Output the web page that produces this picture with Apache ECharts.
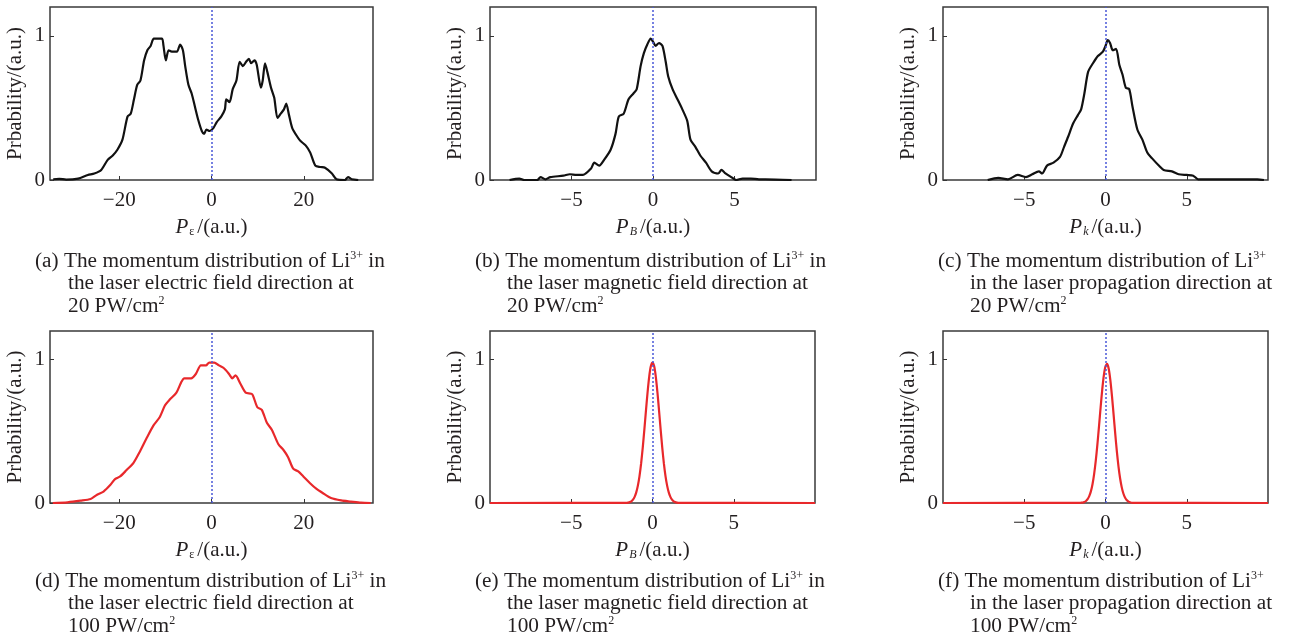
<!DOCTYPE html>
<html><head><meta charset="utf-8">
<script src="https://cdn.jsdelivr.net/npm/echarts@6/dist/echarts.min.js"></script>
<style>html,body{margin:0;padding:0;background:#fff}#c{width:1293px;height:640px}</style>
</head><body><div id="c"></div>
<script>
// ---------- data ----------
const aX = [-34.3,-33,-31.5,-28.9,-26.8,-25.4,-23.9,-22.5,-21.4,-20.4,-19.3,-18.2,-17.5,-16.8,-16.1,-15.4,-14.6,-13.9,-13.2,-12.5,-11.4,-10.7,-10.4,-9.9,-9.3,-8.6,-7.5,-6.8,-6.2,-5.7,-5.0,-4.3,-3.6,-2.9,-2.1,-1.6,-1.1,-0.4,0.4,1.1,2.1,2.9,3.2,3.9,4.6,5.4,6.1,6.8,7.5,8.1,8.6,9.3,9.8,10.7,11.1,11.6,12.1,12.9,13.6,14.3,15.0,15.7,16.2,16.8,17.5,18.6,19.3,20.4,21.4,22.5,23.6,24.6,26.1,27.1,28.9,29.6,30.4,31.8];
const aY = [0.005,0.008,0.003,0.01,0.035,0.045,0.07,0.14,0.17,0.21,0.28,0.44,0.46,0.56,0.66,0.69,0.83,0.90,0.93,0.98,0.98,0.98,0.93,0.83,0.90,0.89,0.89,0.94,0.90,0.79,0.66,0.60,0.51,0.42,0.34,0.32,0.35,0.34,0.36,0.40,0.44,0.49,0.56,0.54,0.63,0.69,0.82,0.79,0.82,0.84,0.81,0.83,0.80,0.64,0.69,0.81,0.75,0.64,0.57,0.43,0.46,0.49,0.53,0.45,0.36,0.30,0.27,0.24,0.19,0.10,0.09,0.085,0.045,0.005,0,0.02,0.005,0];

const bX = [-8.8,-8.2,-7.9,-7.1,-6.9,-6.6,-6.3,-5.5,-5.1,-4.7,-4.3,-3.8,-3.6,-3.3,-3.0,-2.6,-2.3,-2.1,-1.8,-1.5,-1.2,-1.0,-0.76,-0.56,-0.35,-0.14,0,0.16,0.37,0.58,0.78,0.93,1.2,1.5,1.8,2.1,2.3,2.6,2.9,3.25,3.6,4.0,4.2,4.4,4.8,5.1,5.5,6.0,6.5,6.9,8.5];
const bY = [0,0.01,0,0,0.02,0.005,0.02,0.03,0.04,0.035,0.035,0.08,0.12,0.10,0.14,0.21,0.32,0.44,0.46,0.56,0.60,0.63,0.79,0.88,0.94,0.98,0.96,0.93,0.95,0.93,0.82,0.72,0.63,0.56,0.49,0.41,0.28,0.23,0.17,0.12,0.06,0.045,0.07,0.05,0.02,0,0.01,0.01,0.005,0.005,0];

const cX = [-7.25,-6.6,-6.0,-5.4,-4.9,-4.5,-4.1,-3.9,-3.6,-3.2,-2.8,-2.55,-2.3,-2.0,-1.7,-1.5,-1.3,-1.07,-0.77,-0.47,-0.16,0,0.14,0.28,0.45,0.65,0.85,1.05,1.25,1.46,1.66,1.96,2.27,2.57,2.87,3.28,3.58,4.09,4.5,5.0,5.4,5.7,7.3,9.35,9.75];
const cY = [0,0.015,0.005,0.035,0.02,0.04,0.06,0.045,0.10,0.12,0.16,0.23,0.30,0.39,0.45,0.49,0.60,0.75,0.81,0.86,0.89,0.93,0.97,0.95,0.90,0.91,0.80,0.73,0.64,0.63,0.51,0.35,0.28,0.19,0.15,0.10,0.07,0.06,0.04,0.035,0.03,0.005,0.005,0.005,0];

const dX = [-34.4,-31.2,-28.4,-26.2,-24.8,-23.4,-21.9,-20.9,-19.8,-18.4,-16.9,-15.5,-14.1,-12.6,-11.2,-10.1,-9.1,-7.6,-6.6,-5.9,-4.4,-3.4,-2.3,-1.2,-0.5,0.6,1.6,2.7,3.8,4.5,5.2,6.3,7.4,8.8,9.9,10.9,12.0,13.1,14.5,15.6,16.6,17.7,18.8,19.9,21.3,22.7,24.1,25.9,28.1,30.2,32.4,34.5];
const dY = [0,0.005,0.016,0.028,0.058,0.08,0.127,0.167,0.185,0.23,0.28,0.36,0.45,0.54,0.60,0.68,0.72,0.77,0.84,0.87,0.87,0.90,0.96,0.96,0.98,0.98,0.96,0.94,0.90,0.87,0.89,0.83,0.77,0.76,0.67,0.65,0.56,0.51,0.41,0.37,0.32,0.24,0.22,0.185,0.14,0.10,0.07,0.035,0.018,0.01,0.002,0];

const eX = [-10,-1.6,-1.5,-1.4,-1.3,-1.2,-1.1,-1.0,-0.9,-0.8,-0.7,-0.6,-0.5,-0.4,-0.3,-0.2,-0.1,0,0.1,0.2,0.3,0.4,0.5,0.6,0.7,0.8,0.9,1.0,1.1,1.2,1.3,1.4,1.5,1.6,10];
const eY = [0,0.001,0.003,0.006,0.012,0.024,0.043,0.074,0.121,0.188,0.276,0.387,0.514,0.648,0.776,0.884,0.955,0.98,0.955,0.884,0.776,0.648,0.514,0.387,0.276,0.188,0.121,0.074,0.043,0.024,0.012,0.006,0.003,0.001,0];

const fX = [-10,-1.6,-1.5,-1.4,-1.3,-1.2,-1.1,-1.0,-0.9,-0.8,-0.7,-0.6,-0.5,-0.4,-0.3,-0.2,-0.1,0,0.1,0.2,0.3,0.4,0.5,0.6,0.7,0.8,0.9,1.0,1.1,1.2,1.3,1.4,1.5,1.6,1.7,10];
const fY = [0,0.001,0.002,0.003,0.007,0.014,0.027,0.048,0.081,0.131,0.202,0.294,0.407,0.535,0.668,0.792,0.892,0.954,0.970,0.935,0.856,0.744,0.615,0.482,0.359,0.254,0.171,0.109,0.066,0.038,0.021,0.011,0.005,0.002,0.001,0];

const wideTicks = [-20, 0, 20];
const narrowTicks = [-5, 0, 5];
const yTicks = [0, 1];

const xSubs = ['ε', 'B', 'k', 'ε', 'B', 'k'];
const yName = 'Prbability/(a.u.)';

const captionLines = [
  ['(a) The momentum distribution of Li{sup|3+} in', 'the laser electric field direction at', '20 PW/cm{sup|2}'],
  ['(b) The momentum distribution of Li{sup|3+} in', 'the laser magnetic field direction at', '20 PW/cm{sup|2}'],
  ['(c) The momentum distribution of Li{sup|3+}', 'in the laser propagation direction at', '20 PW/cm{sup|2}'],
  ['(d) The momentum distribution of Li{sup|3+} in', 'the laser electric field direction at', '100 PW/cm{sup|2}'],
  ['(e) The momentum distribution of Li{sup|3+} in', 'the laser magnetic field direction at', '100 PW/cm{sup|2}'],
  ['(f) The momentum distribution of Li{sup|3+}', 'in the laser propagation direction at', '100 PW/cm{sup|2}']
];

// ---------- layout ----------
const FONT = '"Liberation Serif","Times New Roman",serif';
const TXT = '#231f20';
const grids = [
  {left: 50,  top: 7,   width: 323, height: 173},
  {left: 490, top: 7,   width: 326, height: 173},
  {left: 943, top: 7,   width: 325, height: 173},
  {left: 50,  top: 331, width: 323, height: 172},
  {left: 490, top: 331, width: 325, height: 172},
  {left: 943, top: 331, width: 325, height: 172}
];
const capPos = [
  {x1: 35, x2: 68, y: 261},
  {x1: 475, x2: 507, y: 261},
  {x1: 938, x2: 970, y: 261},
  {x1: 35, x2: 68, y: 581},
  {x1: 475, x2: 507, y: 581},
  {x1: 938, x2: 970, y: 581}
];

const zip = (xs, ys) => xs.map((x, i) => [x, ys[i]]);
const seriesData = [zip(aX, aY), zip(bX, bY), zip(cX, cY), zip(dX, dY), zip(eX, eY), zip(fX, fY)];
const colors = ['#111111', '#111111', '#111111', '#e8282b', '#e8282b', '#e8282b'];

const minusFmt = v => (v < 0 ? '\u2212' + Math.abs(v) : String(v));

const option = {
  animation: false,
  backgroundColor: '#ffffff',
  grid: grids.map(g => Object.assign({show: true, borderColor: '#3a3a3a', borderWidth: 1.5, backgroundColor: 'transparent'}, g)),
  xAxis: grids.map((g, i) => {
    const wide = (i % 3 === 0);
    const sub = xSubs[i];
    const subItalic = sub !== 'ε';
    return {
      gridIndex: i, type: 'value',
      min: wide ? -35 : -10, max: wide ? 35 : 10,
      axisLine: {show: false, onZero: false}, splitLine: {show: false},
      axisTick: {show: true, inside: true, length: 4, customValues: wide ? wideTicks : narrowTicks, lineStyle: {color: '#333', width: 1}},
      axisLabel: {customValues: wide ? wideTicks : narrowTicks, formatter: minusFmt, fontSize: 21, fontFamily: FONT, color: TXT, margin: 10},
      name: '{i|P}{s|' + sub + '}{n|/(a.u.)}',
      nameLocation: 'middle', nameGap: 36,
      nameTextStyle: {
        fontFamily: FONT, color: TXT, fontSize: 21,
        rich: {
          i: {fontFamily: FONT, fontStyle: 'italic', fontSize: 21, color: TXT, lineHeight: 22},
          s: {fontFamily: FONT, fontStyle: subItalic ? 'italic' : 'normal', fontSize: 12, color: TXT, verticalAlign: 'bottom', lineHeight: 10, padding: [0, 3, 0, 1]},
          n: {fontFamily: FONT, fontSize: 21, color: TXT, lineHeight: 22}
        }
      }
    };
  }),
  yAxis: grids.map((g, i) => ({
    gridIndex: i, type: 'value', min: 0, max: 1.2,
    axisLine: {show: false, onZero: false}, splitLine: {show: false},
    axisTick: {show: true, inside: true, length: 4, customValues: yTicks, lineStyle: {color: '#333', width: 1}},
    axisLabel: {customValues: yTicks, fontSize: 21, fontFamily: FONT, color: TXT, margin: 5},
    name: yName, nameLocation: 'middle', nameGap: 24,
    nameTextStyle: {fontFamily: FONT, fontSize: 21, color: TXT}
  })),
  series: seriesData.map((d, i) => ({
    type: 'line', xAxisIndex: i, yAxisIndex: i, data: d,
    showSymbol: false, smooth: 0.25,
    lineStyle: {color: colors[i], width: 2.2},
    itemStyle: {color: colors[i]},
    markLine: {
      silent: true, symbol: ['none', 'none'], label: {show: false},
      lineStyle: {type: [2, 2], color: '#4a58d8', width: 1.5},
      data: [{xAxis: 0}]
    }
  })),
  graphic: []
};

captionLines.forEach((lines, i) => {
  const p = capPos[i];
  lines.forEach((t, k) => {
    option.graphic.push({
      type: 'text', silent: true,
      x: k === 0 ? p.x1 : p.x2, y: p.y + k * 22.5,
      style: {
        text: t, fontFamily: FONT, fontSize: 21.3, fill: TXT,
        verticalAlign: 'middle', lineHeight: 22,
        rich: {sup: {fontFamily: FONT, fontSize: 12, fill: TXT, verticalAlign: 'top', lineHeight: 12}}
      }
    });
  });
});

const chart = echarts.init(document.getElementById('c'), null, {renderer: 'canvas'});
chart.setOption(option);
</script>
</body></html>
